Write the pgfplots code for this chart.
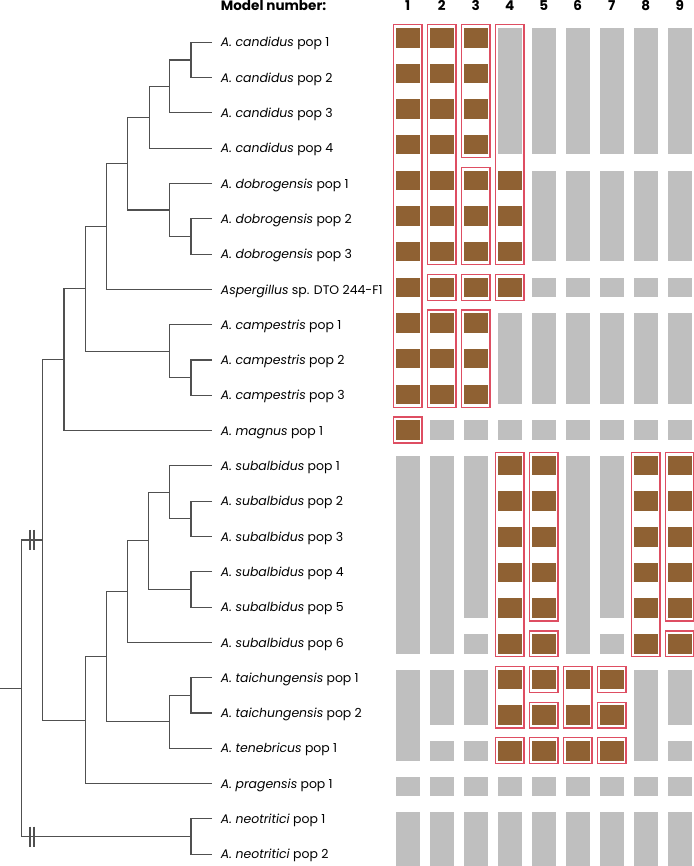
\documentclass[border=0pt]{standalone}
\usepackage{fontspec}
\setmainfont{Poppins}
\usepackage{pgfplots}
\pgfplotsset{compat=1.18}
\definecolor{cbrown}{RGB}{143,97,51}
\definecolor{cgray}{RGB}{191,191,191}
\definecolor{cred}{RGB}{222,78,98}
\definecolor{ctree}{RGB}{80,80,80}
\pgfplotsset{
  graycell/.style={fill=cgray,draw=none},
  browncell/.style={fill=cbrown,draw=none},
  redbox/.style={draw=cred,line width=1.3pt,fill=none},
  tree/.style={draw=ctree,line width=1.1pt,line join=miter,mark=none},
}
% column k: left edge 395.5+34(k-1), width 24.5 ; row i: top 28+35.65(i-1), height 19.5
\newcommand\cellbox[4]{%
  \pgfmathsetmacro\xa{395.5+34*(#1-1)}%
  \pgfmathsetmacro\xb{\xa+24.5}%
  \pgfmathsetmacro\ya{28+35.65*(#2-1)}%
  \pgfmathsetmacro\yb{28+35.65*(#3-1)+19.5}%
  \edef\tmpcmd{\noexpand\addplot[#4] coordinates {(\xa,\ya) (\xb,\ya) (\xb,\yb) (\xa,\yb)} -- cycle;}%
  \tmpcmd}
\newcommand\G[3]{\cellbox{#1}{#2}{#3}{graycell}}
\newcommand\B[2]{\cellbox{#1}{#2}{#2}{browncell}}
\newcommand\R[3]{%
  \pgfmathsetmacro\xa{395.5+34*(#1-1)-2}%
  \pgfmathsetmacro\xb{\xa+28.5}%
  \pgfmathsetmacro\ya{28+35.65*(#2-1)-3.2}%
  \pgfmathsetmacro\yb{28+35.65*(#3-1)+19.5+3.2}%
  \edef\tmpcmd{\noexpand\addplot[redbox] coordinates {(\xa,\ya) (\xb,\ya) (\xb,\yb) (\xa,\yb)} -- cycle;}%
  \tmpcmd}
\newcommand\lab[2]{\node[anchor=base west,inner sep=0pt] at (axis cs:220.7,#1+4.6) {#2};}
\begin{document}
\begin{tikzpicture}
\begin{axis}[x=1bp,y=1bp,xmin=0,xmax=694,ymin=0,ymax=866,y dir=reverse,
  hide axis,clip=false,anchor=south west,at={(0,0)}]
\fontsize{12.5}{15}\selectfont
% ---------------- tree (leaf y: 42.3 + 35.3(i-1)) ----------------
\addplot[tree] coordinates {(212,42.3) (191,42.3) (191,77.6) (212,77.6)};
\addplot[tree] coordinates {(191,59.95) (169.7,59.95) (169.7,112.9) (212,112.9)};
\addplot[tree] coordinates {(169.7,86.43) (149.7,86.43) (149.7,148.2) (212,148.2)};
\addplot[tree] coordinates {(212,218.8) (191,218.8) (191,254.1) (212,254.1)};
\addplot[tree] coordinates {(212,183.5) (169.7,183.5) (169.7,236.45) (191,236.45)};
\addplot[tree] coordinates {(149.7,117.3) (127.7,117.3) (127.7,209.98) (169.7,209.98)};
\addplot[tree] coordinates {(127.7,163.64) (106.3,163.64) (106.3,289.4) (212,289.4)};
\addplot[tree] coordinates {(212,360.0) (191,360.0) (191,395.3) (212,395.3)};
\addplot[tree] coordinates {(212,324.7) (169.7,324.7) (169.7,377.65) (191,377.65)};
\addplot[tree] coordinates {(106.3,226.52) (85.3,226.52) (85.3,351.18) (169.7,351.18)};
\addplot[tree] coordinates {(85.3,288.85) (64,288.85) (64,430.6) (212,430.6)};
\addplot[tree] coordinates {(212,501.2) (191,501.2) (191,536.5) (212,536.5)};
\addplot[tree] coordinates {(212,465.9) (169.7,465.9) (169.7,518.85) (191,518.85)};
\addplot[tree] coordinates {(212,571.8) (191,571.8) (191,607.1) (212,607.1)};
\addplot[tree] coordinates {(169.7,492.38) (148.3,492.38) (148.3,589.45) (191,589.45)};
\addplot[tree] coordinates {(148.3,540.9) (127.7,540.9) (127.7,642.4) (212,642.4)};
\addplot[tree] coordinates {(212,677.7) (191,677.7) (191,713.0) (212,713.0)};
\addplot[tree] coordinates {(191,695.35) (169.7,695.35) (169.7,748.3) (212,748.3)};
\addplot[tree] coordinates {(127.7,591.65) (106.3,591.65) (106.3,721.83) (169.7,721.83)};
\addplot[tree] coordinates {(106.3,656.74) (85.3,656.74) (85.3,783.6) (212,783.6)};
\addplot[tree] coordinates {(64,359.73) (42.7,359.73) (42.7,720.17) (85.3,720.17)};
\addplot[tree] coordinates {(212,818.9) (191,818.9) (191,854.2) (212,854.2)};
\addplot[tree] coordinates {(42.7,539.95) (21.7,539.95) (21.7,836.55) (191,836.55)};
\addplot[tree] coordinates {(0,688.25) (21.7,688.25)};
% break marks
\addplot[tree] coordinates {(30,529.9) (30,550)};
\addplot[tree] coordinates {(34,529.9) (34,550)};
\addplot[tree] coordinates {(30,826.5) (30,846.6)};
\addplot[tree] coordinates {(34,826.5) (34,846.6)};
% ---------------- labels ----------------
\lab{42.3}{\textit{A. candidus} pop 1}
\lab{77.6}{\textit{A. candidus} pop 2}
\lab{112.9}{\textit{A. candidus} pop 3}
\lab{148.2}{\textit{A. candidus} pop 4}
\lab{183.5}{\textit{A. dobrogensis} pop 1}
\lab{218.8}{\textit{A. dobrogensis} pop 2}
\lab{254.1}{\textit{A. dobrogensis} pop 3}
\lab{289.4}{\textit{Aspergillus} sp. DTO 244-F1}
\lab{324.7}{\textit{A. campestris} pop 1}
\lab{360.0}{\textit{A. campestris} pop 2}
\lab{395.3}{\textit{A. campestris} pop 3}
\lab{430.6}{\textit{A. magnus} pop 1}
\lab{465.9}{\textit{A. subalbidus} pop 1}
\lab{501.2}{\textit{A. subalbidus} pop 2}
\lab{536.5}{\textit{A. subalbidus} pop 3}
\lab{571.8}{\textit{A. subalbidus} pop 4}
\lab{607.1}{\textit{A. subalbidus} pop 5}
\lab{642.4}{\textit{A. subalbidus} pop 6}
\lab{677.7}{\textit{A. taichungensis} pop 1}
\lab{713.0}{\textit{A. taichungensis} pop 2}
\lab{748.3}{\textit{A. tenebricus} pop 1}
\lab{783.6}{\textit{A. pragensis} pop 1}
\lab{818.9}{\textit{A. neotritici} pop 1}
\lab{854.2}{\textit{A. neotritici} pop 2}
% header
\node[anchor=base west,inner sep=0pt,font=\fontsize{13.6}{16}\selectfont\bfseries] at (axis cs:220.7,10.9) {Model number:};
\foreach \k in {1,...,9}{
  \pgfmathsetmacro\xc{407.75+34*(\k-1)}
  \edef\tmpnode{\noexpand\node[anchor=base,inner sep=0pt,font=\noexpand\fontsize{13.6}{16}\noexpand\selectfont\noexpand\bfseries] at (axis cs:\xc,10.9) {\k};}
  \tmpnode
}
% ---------------- cells ----------------
% column 1
\B{1}{1}\B{1}{2}\B{1}{3}\B{1}{4}\B{1}{5}\B{1}{6}\B{1}{7}\B{1}{8}\B{1}{9}\B{1}{10}\B{1}{11}
\B{1}{12}\G{1}{13}{18}\G{1}{19}{21}\G{1}{22}{22}\G{1}{23}{24}
\R{1}{1}{11}\R{1}{12}{12}
% column 2
\B{2}{1}\B{2}{2}\B{2}{3}\B{2}{4}\B{2}{5}\B{2}{6}\B{2}{7}\B{2}{8}\B{2}{9}\B{2}{10}\B{2}{11}
\G{2}{12}{12}\G{2}{13}{18}\G{2}{19}{20}\G{2}{21}{21}\G{2}{22}{22}\G{2}{23}{24}
\R{2}{1}{7}\R{2}{8}{8}\R{2}{9}{11}
% column 3
\B{3}{1}\B{3}{2}\B{3}{3}\B{3}{4}\B{3}{5}\B{3}{6}\B{3}{7}\B{3}{8}\B{3}{9}\B{3}{10}\B{3}{11}
\G{3}{12}{12}\G{3}{13}{17}\G{3}{18}{18}\G{3}{19}{20}\G{3}{21}{21}\G{3}{22}{22}\G{3}{23}{24}
\R{3}{1}{4}\R{3}{5}{7}\R{3}{8}{8}\R{3}{9}{11}
% column 4
\G{4}{1}{4}\B{4}{5}\B{4}{6}\B{4}{7}\B{4}{8}\G{4}{9}{11}\G{4}{12}{12}
\B{4}{13}\B{4}{14}\B{4}{15}\B{4}{16}\B{4}{17}\B{4}{18}\B{4}{19}\B{4}{20}\B{4}{21}
\G{4}{22}{22}\G{4}{23}{24}
\R{4}{1}{7}\R{4}{8}{8}\R{4}{13}{18}\R{4}{19}{20}\R{4}{21}{21}
% column 5
\G{5}{1}{4}\G{5}{5}{7}\G{5}{8}{8}\G{5}{9}{11}\G{5}{12}{12}
\B{5}{13}\B{5}{14}\B{5}{15}\B{5}{16}\B{5}{17}\B{5}{18}\B{5}{19}\B{5}{20}\B{5}{21}
\G{5}{22}{22}\G{5}{23}{24}
\R{5}{13}{17}\R{5}{18}{18}\R{5}{19}{19}\R{5}{20}{20}\R{5}{21}{21}
% column 6
\G{6}{1}{4}\G{6}{5}{7}\G{6}{8}{8}\G{6}{9}{11}\G{6}{12}{12}\G{6}{13}{18}
\B{6}{19}\B{6}{20}\B{6}{21}\G{6}{22}{22}\G{6}{23}{24}
\R{6}{19}{20}\R{6}{21}{21}
% column 7
\G{7}{1}{4}\G{7}{5}{7}\G{7}{8}{8}\G{7}{9}{11}\G{7}{12}{12}\G{7}{13}{17}\G{7}{18}{18}
\B{7}{19}\B{7}{20}\B{7}{21}\G{7}{22}{22}\G{7}{23}{24}
\R{7}{19}{19}\R{7}{20}{20}\R{7}{21}{21}
% column 8
\G{8}{1}{4}\G{8}{5}{7}\G{8}{8}{8}\G{8}{9}{11}\G{8}{12}{12}
\B{8}{13}\B{8}{14}\B{8}{15}\B{8}{16}\B{8}{17}\B{8}{18}
\G{8}{19}{21}\G{8}{22}{22}\G{8}{23}{24}
\R{8}{13}{18}
% column 9
\G{9}{1}{4}\G{9}{5}{7}\G{9}{8}{8}\G{9}{9}{11}\G{9}{12}{12}
\B{9}{13}\B{9}{14}\B{9}{15}\B{9}{16}\B{9}{17}\B{9}{18}
\G{9}{19}{20}\G{9}{21}{21}\G{9}{22}{22}\G{9}{23}{24}
\R{9}{13}{17}\R{9}{18}{18}
\end{axis}
\pgfresetboundingbox
\path[use as bounding box] (0,0) rectangle (694bp,866bp);
\end{tikzpicture}
\end{document}
